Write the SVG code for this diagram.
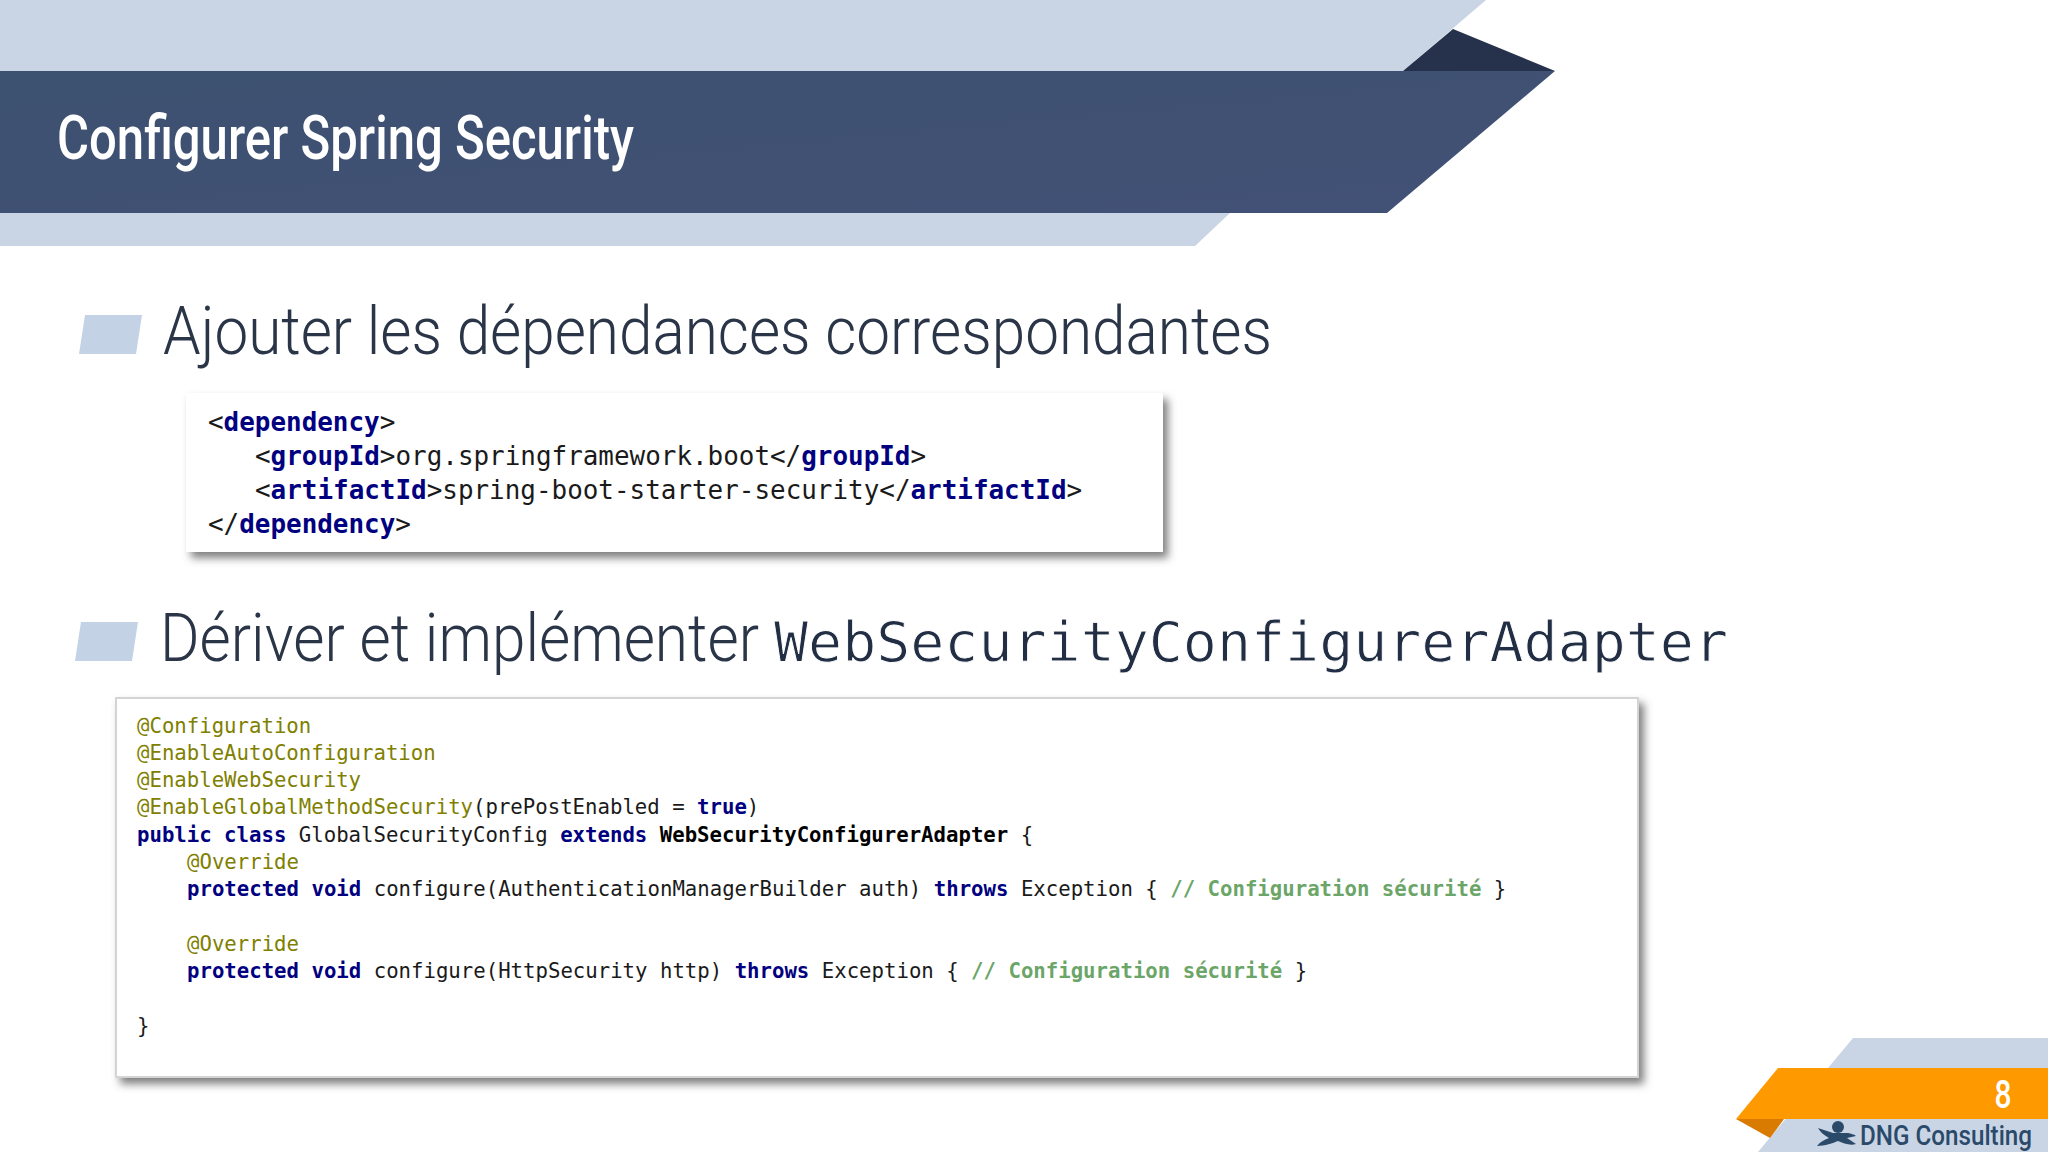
<svg xmlns="http://www.w3.org/2000/svg" width="2048" height="1152" viewBox="0 0 2048 1152">
<style>
.h{font-family:"Roboto","Liberation Sans",sans-serif;font-weight:300;font-size:67px;fill:#2a3548}
.c{font-family:"DejaVu Sans Mono","Liberation Mono",monospace;fill:#1a1a1a;white-space:pre}
.s{font-size:25.93px}.m{font-size:20.68px}
.k{fill:#000080;font-weight:700}.a{fill:#808000}.g{fill:#6ba568;font-weight:700}.b{font-weight:700;fill:#000}
.p{fill:#c9d5e5}.u{fill:#c4d2e6}
</style>
<defs>
<filter id="sh" x="-5%" y="-10%" width="110%" height="125%"><feDropShadow dx="5" dy="6" stdDeviation="4" flood-color="#555" flood-opacity="0.75"/></filter>
<linearGradient id="band" x1="0" x2="1" y1="0" y2="1"><stop offset="0" stop-color="#3d5170"/><stop offset="1" stop-color="#425176"/></linearGradient>
</defs>
<rect width="2048" height="1152" fill="#fff"/>
<g id="header">
<polygon class="p" points="0,0 1486,0 1403,71 0,71"/>
<polygon fill="#26314b" points="1453,29 1555,71 1403,71"/>
<polygon class="p" points="0,213 1230,213 1195,246 0,246"/>
<polygon fill="url(#band)" points="0,71 1555,71 1387,213 0,213"/>
<text x="57" y="159" font-family="Roboto,'Liberation Sans',sans-serif" font-weight="500" font-size="62" fill="#fff" textLength="577" lengthAdjust="spacingAndGlyphs">Configurer Spring Security</text>
</g>
<g id="section1">
<polygon class="u" points="85,315 142,315 136,354 79,354"/>
<text class="h" x="163" y="354" textLength="1109" lengthAdjust="spacingAndGlyphs">Ajouter les dépendances correspondantes</text>
</g>
<g id="code1">
<rect x="186" y="393" width="977" height="159" fill="#fff" filter="url(#sh)"/>
<text class="c s" x="208" y="431">&lt;<tspan class="k">dependency</tspan>&gt;</text>
<text class="c s" x="255" y="465">&lt;<tspan class="k">groupId</tspan>&gt;org.springframework.boot&lt;/<tspan class="k">groupId</tspan>&gt;</text>
<text class="c s" x="255" y="499">&lt;<tspan class="k">artifactId</tspan>&gt;spring-boot-starter-security&lt;/<tspan class="k">artifactId</tspan>&gt;</text>
<text class="c s" x="208" y="533">&lt;/<tspan class="k">dependency</tspan>&gt;</text>
</g>
<g id="section2">
<polygon class="u" points="81,622 138,622 132,661 75,661"/>
<text class="h" x="160" y="661" textLength="599" lengthAdjust="spacingAndGlyphs">Dériver et implémenter</text>
<text x="774" y="661" font-family="'DejaVu Sans Mono',monospace" font-size="55" fill="#222e44" stroke="#fff" stroke-width="0.9" paint-order="fill" textLength="954" lengthAdjust="spacingAndGlyphs">WebSecurityConfigurerAdapter</text>
</g>
<g id="code2">
<rect x="116" y="698" width="1522" height="379" fill="#fff" stroke="#d4d4d4" stroke-width="2" filter="url(#sh)"/>
<text class="c m a" x="137" y="732.5">@Configuration</text>
<text class="c m a" x="137" y="759.8">@EnableAutoConfiguration</text>
<text class="c m a" x="137" y="787.1">@EnableWebSecurity</text>
<text class="c m" x="137" y="814.4"><tspan class="a">@EnableGlobalMethodSecurity</tspan>(prePostEnabled = <tspan class="k">true</tspan>)</text>
<text class="c m" x="137" y="841.7"><tspan class="k">public class</tspan> GlobalSecurityConfig <tspan class="k">extends</tspan> <tspan class="b">WebSecurityConfigurerAdapter</tspan> {</text>
<text class="c m a" x="187" y="869">@Override</text>
<text class="c m" x="187" y="896.3"><tspan class="k">protected void</tspan> configure(AuthenticationManagerBuilder auth) <tspan class="k">throws</tspan> Exception { <tspan class="g">// Configuration sécurité</tspan> }</text>
<text class="c m a" x="187" y="950.9">@Override</text>
<text class="c m" x="187" y="978.2"><tspan class="k">protected void</tspan> configure(HttpSecurity http) <tspan class="k">throws</tspan> Exception { <tspan class="g">// Configuration sécurité</tspan> }</text>
<text class="c m" x="137" y="1032.8">}</text>
</g>
<g id="footer">
<polygon class="p" points="1853,1038 2048,1038 2048,1152 1758,1152"/>
<polygon fill="#d97b00" points="1736,1119 1784,1119 1770,1138"/>
<polygon fill="#ff9900" points="1778,1068 2048,1068 2048,1119 1736,1119"/>
<text x="2003" y="1108" text-anchor="middle" font-family="Roboto,sans-serif" font-weight="500" font-size="38" fill="#fff" textLength="17" lengthAdjust="spacingAndGlyphs">8</text>
<circle cx="1838" cy="1127" r="6" fill="#2b4a6a"/>
<path fill="#2b4a6a" d="M1818,1128 L1833,1133 L1848,1133 C1851,1134 1854,1134 1856,1136 L1847,1138 C1850,1140 1853,1142 1856,1144 C1850,1146 1843,1143 1838,1141 C1833,1143 1825,1146 1817,1146 C1820,1142 1824,1140 1829,1138 C1824,1135 1820,1132 1818,1128 Z"/>
<text x="1860" y="1145" font-family="Roboto,sans-serif" font-weight="500" font-size="28" fill="#2b4a6a" textLength="172" lengthAdjust="spacingAndGlyphs">DNG Consulting</text>
</g>
</svg>
